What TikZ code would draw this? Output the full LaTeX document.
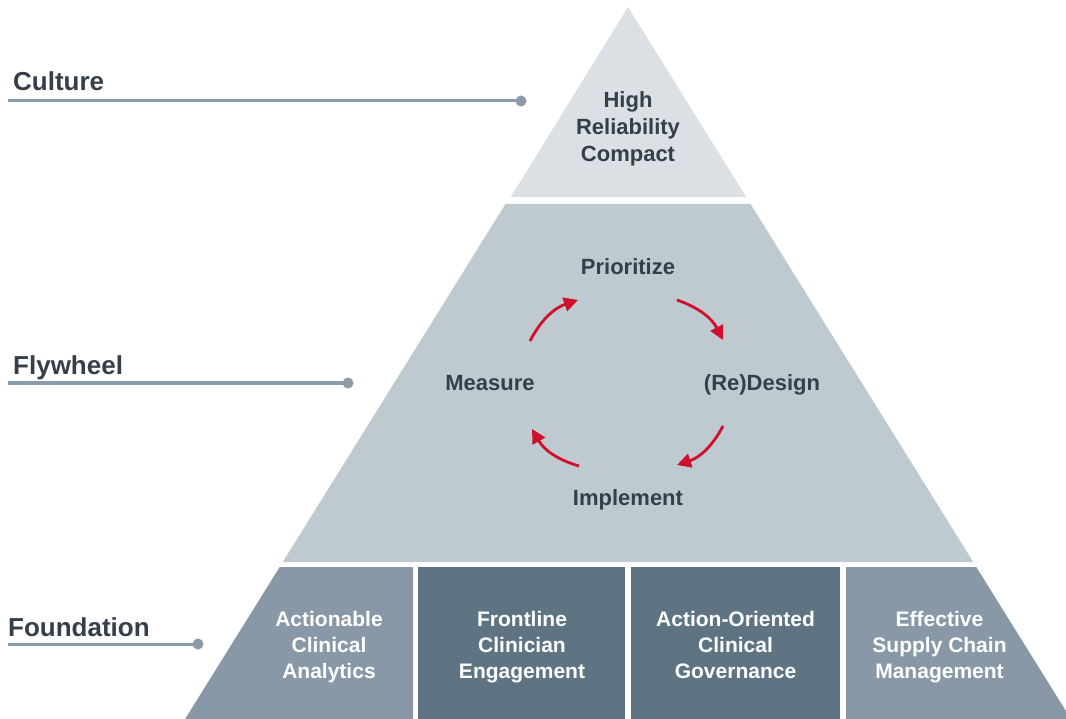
\documentclass[tikz,border=0pt]{standalone}
\usepackage{fontspec}
\setmainfont{Liberation Sans}
\usetikzlibrary{positioning,arrows.meta}
\definecolor{capgray}{HTML}{DBE0E4}
\definecolor{wheelgray}{HTML}{BEC9D0}
\definecolor{basegray}{HTML}{8898A6}
\definecolor{baseslate}{HTML}{5F7482}
\definecolor{ink}{HTML}{343F4A}
\definecolor{leader}{HTML}{8C9BA8}
\definecolor{loopred}{HTML}{D0102A}
\tikzset{
  sidelabel/.style={anchor=base west, inner sep=0pt, text=ink, font=\fontsize{26}{30}\selectfont\bfseries},
  tiertext/.style={align=center, inner sep=0pt, text=ink, font=\fontsize{22}{27}\selectfont\bfseries},
  steptext/.style={tiertext, anchor=base},
  basetext/.style={align=center, anchor=north, inner sep=0pt, text=white, font=\fontsize{21}{26}\selectfont\bfseries},
  leaderline/.style={line width=3pt, draw=leader},
  leaderdot/.style={fill=leader},
  looparrow/.style={-{Triangle[length=14pt,width=14pt]}, line width=2.8pt, draw=loopred, bend left=22}
}

\begin{document}
\begin{tikzpicture}[x=1pt, y=1pt]
  \useasboundingbox (0,0) rectangle (1066,-719);

  % pyramid tiers
  \fill[capgray] (628,-7) -- (746.2,-197) -- (510.8,-197) -- cycle;
  \fill[wheelgray] (505.5,-204) -- (750.5,-204) -- (973.2,-562) -- (282.8,-562) -- cycle;
  \fill[basegray] (279.7,-567) -- (413,-567) -- (413,-719) -- (185.1,-719) -- cycle;
  \fill[baseslate] (418,-567) rectangle (625,-719);
  \fill[baseslate] (631,-567) rectangle (840,-719);
  \fill[basegray] (846,-567) -- (976.3,-567) -- (1070.9,-719) -- (846,-719) -- cycle;

  % tier texts
  \node[tiertext, anchor=north] (compact) at (628,-91.5) {High\\Reliability\\Compact};
  \node[steptext] (prioritize) at (628,-275) {Prioritize};
  \node[steptext] (redesign) at (762,-391) {(Re)Design};
  \node[steptext] (measure) at (490,-391) {Measure};
  \node[steptext] (implement) at (628,-505) {Implement};

  \node[basetext] (analytics) at (329,-611.5) {Actionable\\Clinical\\Analytics};
  \node[basetext] (engagement) at (522,-611.5) {Frontline\\Clinician\\Engagement};
  \node[basetext] (governance) at (735.5,-611.5) {Action-Oriented\\Clinical\\Governance};
  \node[basetext] (supply) at (939.5,-611.5) {Effective\\Supply Chain\\Management};

  % flywheel loop
  \coordinate (m-out) at (530,-341);
  \coordinate (p-in) at (578,-300);
  \coordinate (p-out) at (677,-300);
  \coordinate (d-in) at (723,-340);
  \coordinate (d-out) at (723,-426);
  \coordinate (i-in) at (677,-465);
  \coordinate (i-out) at (579,-466);
  \coordinate (m-in) at (532,-429);
  \draw[looparrow] (m-out) to (p-in);
  \draw[looparrow] (p-out) to (d-in);
  \draw[looparrow] (d-out) to (i-in);
  \draw[looparrow] (i-out) to (m-in);

  % side labels
  \node[sidelabel] (culture) at (13,-91) {Culture};
  \node[sidelabel] (flywheel) at (13,-374) {Flywheel};
  \node[sidelabel] (foundation) at (8,-636) {Foundation};
  \coordinate (culture-from) at (8,-101);
  \coordinate (culture-dot) at (521,-101);
  \coordinate (flywheel-from) at (8,-383);
  \coordinate (flywheel-dot) at (348,-383);
  \coordinate (foundation-from) at (8,-644);
  \coordinate (foundation-dot) at (198,-644);
  \draw[leaderline] (culture-from) -- (culture-dot);
  \draw[leaderline] (flywheel-from) -- (flywheel-dot);
  \draw[leaderline] (foundation-from) -- (foundation-dot);
  \fill[leaderdot] (culture-dot) circle (5.5);
  \fill[leaderdot] (flywheel-dot) circle (5.5);
  \fill[leaderdot] (foundation-dot) circle (5.5);
\end{tikzpicture}
\end{document}
